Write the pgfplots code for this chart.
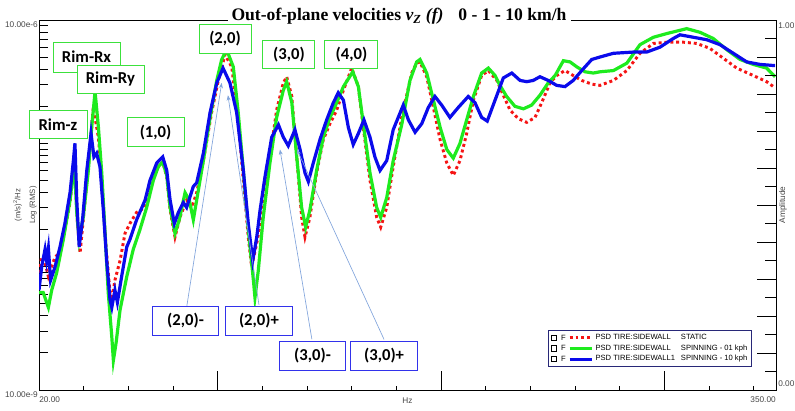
\documentclass[border=0pt]{standalone}
\usepackage{fontspec}
\setmainfont{Liberation Sans}
\newfontfamily\serifb{Liberation Serif}
\newfontfamily\carlito{Carlito}
\usepackage{pgfplots}
\pgfplotsset{compat=1.18}
\usetikzlibrary{arrows.meta}

\definecolor{cRed}{RGB}{245,20,20}
\definecolor{cGreen}{RGB}{30,235,30}
\definecolor{cBlue}{RGB}{10,10,235}
\definecolor{boxG}{RGB}{60,225,60}
\definecolor{boxB}{RGB}{50,50,235}
\definecolor{arr}{RGB}{130,165,220}
\definecolor{legB}{RGB}{40,40,120}
\definecolor{tickT}{RGB}{70,70,70}

\newcommand{\smallf}{\fontsize{6.2}{7}\selectfont}
\newcommand{\legf}{\fontsize{5.7}{6.6}\selectfont}

\begin{document}
\begin{tikzpicture}[
  gbox/.style={draw=boxG,line width=0.7pt,fill=white,font=\carlito\bfseries\fontsize{12.5}{14}\selectfont,inner sep=0pt,text=black},
  bbox/.style={gbox,draw=boxB},
  arrw/.style={draw=arr,line width=0.5pt,-{Stealth[length=4pt,width=3pt]}}
]
\begin{axis}[
  scale only axis, width=552.75pt, height=277.5pt,
  xmin=20, xmax=350, ymin=-8, ymax=-5,
  clip mode=individual,
  axis line style={black,line width=0.7pt},
  tick align=inside, xtick pos=bottom, ytick pos=left,
  xtick={20,100,200,300}, xticklabels={20.00,,,},
  minor xtick={40,60,80,120,140,160,180,220,240,260,280,320,340},
  xtick style={black,line width=0.6pt,/pgfplots/major tick length=14.25pt,/pgfplots/minor tick length=3pt},
  xticklabel style={font=\smallf,text=tickT,anchor=north west,inner sep=0pt,yshift=-5pt},
  extra x ticks={350}, extra x tick labels={350.00},
  extra x tick style={/pgfplots/major tick length=0pt, xticklabel style={anchor=north east}},
  ytick={-8,-7,-6,-5}, yticklabels={10.00e-9,,,10.00e-6},
  minor ytick={-7.699,-7.523,-7.398,-7.301,-7.222,-7.155,-7.097,-7.046,
               -6.699,-6.523,-6.398,-6.301,-6.222,-6.155,-6.097,-6.046,
               -5.699,-5.523,-5.398,-5.301,-5.222,-5.155,-5.097,-5.046},
  ytick style={black,line width=0.6pt,/pgfplots/major tick length=6.75pt,/pgfplots/minor tick length=6.75pt},
  yticklabel style={font=\smallf,text=tickT,anchor=north east,inner sep=0pt,xshift=-0.75pt,yshift=-0.75pt},
  xlabel={Hz}, xlabel style={font=\smallf,text=tickT,at={(axis description cs:0.5,-0.0297)},anchor=center},
  ylabel={(m/s)\textsuperscript{2}/Hz\\Log (RMS)},
  ylabel style={font=\fontsize{5.8}{11}\selectfont,text=tickT,align=center,at={(axis description cs:-0.019,0.5)},anchor=center},
  legend cell align=left,
  legend style={at={(axis description cs:0.9674,0.0622)},anchor=south east,draw=legB,line width=0.6pt,fill=white,font=\legf,inner xsep=2pt,inner ysep=1.5pt,row sep=0pt,nodes={inner sep=1.25pt}},
  legend image code/.code={%
    \draw[black,solid,line width=0.5pt,fill=white] (-14pt,-1.9pt) rectangle (-10.2pt,1.9pt);
    \node[black,anchor=base west,inner sep=0pt,font=\legf] at (-7.6pt,-2pt) {F};
    \draw[#1] (0pt,0pt) -- (17pt,0pt);
  },
]
\addplot[cRed,line width=2.2pt,dash pattern=on 2.2pt off 2.2pt] coordinates {
(20.0,-7.05)(21.2,-6.92)(22.7,-6.97)(24.2,-7.08)(25.7,-7.00)(27.2,-6.92)(29.4,-6.89)(31.6,-6.70)(33.9,-6.48)(35.4,-6.22)(36.1,-6.14)(37.1,-6.62)(38.4,-6.89)(39.8,-6.62)(42.1,-6.19)(44.3,-5.71)(46.6,-5.95)(48.1,-6.32)(50.0,-6.84)(51.8,-7.21)(52.6,-7.27)(54.0,-7.11)(56.3,-6.95)(58.5,-6.73)(60.7,-6.65)(63.7,-6.56)(67.5,-6.52)(70.5,-6.30)(73.4,-6.19)(75.4,-6.15)(77.2,-6.27)(78.7,-6.54)(80.9,-6.76)(83.1,-6.60)(86.1,-6.46)(88.4,-6.52)(90.6,-6.40)(93.6,-6.14)(97.3,-5.75)(100.3,-5.49)(103.3,-5.28)(106.3,-5.38)(109.2,-5.81)(111.5,-6.30)(113.7,-6.76)(115.2,-7.00)(117.5,-6.81)(120.4,-6.52)(123.4,-6.11)(126.4,-5.73)(129.4,-5.51)(130.9,-5.46)(133.2,-5.62)(135.4,-6.11)(137.6,-6.60)(139.1,-6.76)(141.3,-6.60)(144.3,-6.24)(147.3,-5.97)(150.3,-5.84)(153.3,-5.73)(156.3,-5.57)(160.0,-5.39)(163.0,-5.54)(165.2,-5.87)(168.2,-6.30)(171.2,-6.60)(173.0,-6.68)(175.7,-6.52)(178.6,-6.19)(182.4,-5.79)(186.9,-5.43)(189.1,-5.35)(190.6,-5.34)(193.6,-5.46)(196.6,-5.71)(199.6,-5.97)(202.6,-6.16)(205.5,-6.26)(208.5,-6.14)(211.5,-5.92)(214.5,-5.65)(218.2,-5.45)(221.2,-5.41)(225.0,-5.49)(227.9,-5.61)(230.9,-5.73)(234.6,-5.80)(238.4,-5.83)(242.1,-5.79)(245.1,-5.67)(248.8,-5.51)(251.8,-5.45)(255.5,-5.41)(259.2,-5.45)(263.0,-5.49)(267.5,-5.52)(271.2,-5.53)(277.2,-5.49)(283.2,-5.41)(289.1,-5.27)(295.1,-5.19)(301.1,-5.18)(308.5,-5.18)(314.5,-5.19)(320.4,-5.23)(326.4,-5.31)(332.4,-5.39)(339.8,-5.45)(345.8,-5.50)(349.6,-5.55)
};
\addlegendentry{\makebox[64pt][l]{PSD TIRE:SIDEWALL}STATIC}
\addplot[cGreen,line width=2.4pt] coordinates {
(20.0,-7.21)(21.9,-7.21)(24.2,-7.33)(25.7,-7.19)(27.9,-7.05)(30.9,-6.78)(33.9,-6.46)(35.8,-6.16)(36.9,-6.56)(38.0,-6.78)(39.8,-6.60)(42.1,-6.22)(43.6,-5.87)(45.1,-5.58)(46.6,-5.87)(48.1,-6.24)(49.6,-6.73)(51.0,-7.21)(52.6,-7.57)(53.3,-7.76)(54.5,-7.62)(56.3,-7.35)(59.3,-7.08)(62.2,-6.86)(65.2,-6.70)(68.2,-6.52)(71.2,-6.30)(73.4,-6.19)(75.4,-6.15)(77.2,-6.26)(78.7,-6.52)(80.9,-6.73)(82.8,-6.62)(85.4,-6.40)(87.3,-6.46)(89.1,-6.62)(90.6,-6.46)(93.6,-6.14)(96.6,-5.79)(99.6,-5.49)(101.8,-5.32)(104.0,-5.24)(107.0,-5.38)(109.2,-5.75)(111.5,-6.22)(113.7,-6.70)(116.0,-7.11)(116.7,-7.25)(118.2,-7.03)(120.4,-6.60)(123.4,-6.16)(126.4,-5.79)(129.4,-5.57)(130.9,-5.50)(133.2,-5.67)(135.4,-6.11)(137.6,-6.52)(139.4,-6.68)(141.3,-6.54)(144.3,-6.22)(147.3,-5.95)(150.3,-5.79)(153.3,-5.67)(156.3,-5.54)(160.5,-5.42)(163.0,-5.54)(165.2,-5.84)(168.2,-6.24)(171.2,-6.52)(173.0,-6.60)(175.7,-6.44)(178.6,-6.14)(182.4,-5.85)(186.1,-5.49)(189.1,-5.34)(190.6,-5.32)(193.6,-5.43)(196.6,-5.65)(199.6,-5.87)(202.6,-6.05)(205.5,-6.12)(208.5,-6.00)(211.5,-5.81)(214.5,-5.62)(218.2,-5.43)(221.2,-5.39)(224.2,-5.45)(226.4,-5.53)(229.4,-5.62)(233.1,-5.70)(236.9,-5.72)(240.6,-5.69)(244.3,-5.61)(248.0,-5.51)(251.1,-5.45)(254.8,-5.33)(257.8,-5.34)(260.8,-5.38)(264.5,-5.42)(268.2,-5.43)(271.2,-5.42)(277.2,-5.41)(283.2,-5.35)(289.1,-5.20)(295.1,-5.14)(301.1,-5.11)(310.0,-5.07)(316.0,-5.10)(321.9,-5.15)(327.9,-5.24)(333.9,-5.32)(339.8,-5.36)(345.8,-5.39)(349.6,-5.46)
};
\addlegendentry{\makebox[64pt][l]{PSD TIRE:SIDEWALL}SPINNING - 01 kph}
\addplot[cBlue,line width=2.4pt] coordinates {
(20.0,-7.19)(21.2,-7.00)(22.7,-6.86)(23.4,-6.95)(24.2,-6.85)(25.2,-7.11)(27.2,-7.00)(29.4,-6.84)(31.6,-6.65)(33.9,-6.40)(35.4,-6.14)(36.1,-6.00)(36.9,-6.46)(38.0,-6.84)(39.6,-6.60)(41.4,-6.22)(43.3,-5.92)(44.6,-6.11)(45.8,-6.08)(47.3,-6.19)(48.8,-6.54)(50.3,-6.95)(51.8,-7.27)(52.6,-7.33)(54.0,-7.19)(55.1,-7.29)(57.0,-7.08)(59.3,-6.84)(60.7,-6.78)(63.7,-6.62)(67.5,-6.46)(69.7,-6.30)(72.7,-6.16)(75.4,-6.11)(77.2,-6.22)(78.7,-6.46)(80.6,-6.65)(82.4,-6.56)(84.6,-6.48)(86.1,-6.52)(89.1,-6.35)(90.6,-6.32)(93.6,-6.08)(96.6,-5.75)(99.6,-5.51)(102.4,-5.39)(105.5,-5.51)(108.5,-5.75)(111.5,-6.22)(113.7,-6.65)(115.7,-6.95)(117.5,-6.76)(119.0,-6.54)(121.2,-6.27)(124.2,-5.95)(127.2,-5.85)(129.4,-5.95)(131.6,-6.02)(134.6,-5.89)(136.9,-6.05)(139.1,-6.24)(140.6,-6.31)(142.8,-6.16)(145.8,-5.97)(148.8,-5.81)(151.8,-5.67)(154.0,-5.59)(156.3,-5.65)(158.5,-5.87)(160.7,-6.01)(163.0,-5.92)(165.5,-5.81)(168.2,-5.95)(170.4,-6.11)(172.7,-6.22)(175.7,-6.14)(178.6,-5.89)(183.1,-5.69)(185.4,-5.81)(188.4,-5.91)(191.4,-5.84)(194.3,-5.71)(197.3,-5.62)(200.3,-5.69)(204.0,-5.79)(207.7,-5.71)(212.2,-5.62)(215.2,-5.67)(218.2,-5.79)(220.7,-5.82)(224.2,-5.65)(227.9,-5.47)(231.7,-5.43)(235.4,-5.49)(238.4,-5.50)(241.3,-5.49)(244.3,-5.46)(248.0,-5.49)(251.8,-5.53)(255.5,-5.54)(259.2,-5.49)(263.0,-5.41)(267.5,-5.32)(271.2,-5.30)(277.2,-5.27)(286.1,-5.26)(292.1,-5.26)(298.1,-5.22)(304.0,-5.15)(307.0,-5.12)(313.0,-5.14)(319.0,-5.16)(324.9,-5.20)(330.9,-5.27)(336.9,-5.34)(342.8,-5.36)(349.6,-5.37)
};
\addlegendentry{\makebox[64pt][l]{PSD TIRE:SIDEWALL1}SPINNING - 10 kph}

% title over the top frame
\node[fill=white,inner xsep=3pt,inner ysep=1pt,anchor=base,font=\serifb\bfseries\fontsize{13.2}{16}\selectfont]
  at (rel axis cs:0.4885,1) [yshift=-0.75pt]
  {Out-of-plane velocities {\itshape v\textsubscript{Z} (f)}\hspace{0.6em} 0 - 1 - 10 km/h};

% arrows
\draw[arrw] (axis cs:86.1,-7.33) -- (axis cs:101.8,-5.51);
\draw[arrw] (axis cs:118.5,-7.31) -- (axis cs:104.6,-5.61);
\draw[arrw] (axis cs:142.2,-7.59) -- (axis cs:127.9,-6.05);
\draw[arrw] (axis cs:174.5,-7.59) -- (axis cs:135.5,-6.05);

% top boxes
\node[gbox,minimum width=50.25pt,minimum height=22.5pt] at (axis cs:41.3,-5.30) {Rim-Rx};
\node[gbox,minimum width=50.25pt,minimum height=21pt] at (axis cs:52.0,-5.48) {Rim-Ry};
\node[gbox,minimum width=43.5pt,minimum height=21pt] at (axis cs:28.5,-5.85) {Rim-z};
\node[gbox,minimum width=42.75pt,minimum height=21.75pt] at (axis cs:72.2,-5.91) {(1,0)};
\node[gbox,minimum width=39pt,minimum height=21.75pt] at (axis cs:103.3,-5.15) {(2,0)};
\node[gbox,minimum width=39pt,minimum height=21pt] at (axis cs:131.9,-5.28) {(3,0)};
\node[gbox,minimum width=39.75pt,minimum height=21pt] at (axis cs:159.9,-5.28) {(4,0)};
% bottom boxes
\node[bbox,minimum width=50pt,minimum height=21.75pt] at (axis cs:85.6,-7.44) {(2,0)-};
\node[bbox,minimum width=50pt,minimum height=21.75pt] at (axis cs:118.5,-7.44) {(2,0)+};
\node[bbox,minimum width=50pt,minimum height=21.75pt] at (axis cs:142.5,-7.72) {(3,0)-};
\node[bbox,minimum width=50pt,minimum height=21.75pt] at (axis cs:174.5,-7.72) {(3,0)+};
\end{axis}

\begin{axis}[
  scale only axis, width=552.75pt, height=277.5pt,
  xmin=20, xmax=350, ymin=0, ymax=1,
  hide x axis,
  axis line style={draw=none},
  ytick pos=right, tick align=inside,
  ytick={0,0.1,0.2,0.3,0.4,0.5,0.6,0.7,0.8,0.9},
  yticklabels={0.00,,,,,,,,,},
  minor ytick={0.05,0.15,0.25,0.35,0.45,0.55,0.65,0.75,0.85,0.95},
  ytick style={black,line width=0.6pt,/pgfplots/major tick length=14.25pt,/pgfplots/minor tick length=8.25pt},
  yticklabel style={font=\smallf,text=tickT,anchor=south west,inner sep=0pt,xshift=1.5pt,yshift=2pt},
  extra y ticks={1}, extra y tick labels={1.00},
  extra y tick style={yticklabel style={anchor=north west,yshift=-3.5pt}},
  ylabel={Amplitude},
  ylabel style={font=\smallf,text=tickT,at={(axis description cs:1.0095,0.5)},anchor=center},
]
\end{axis}
\pgfresetboundingbox
\path (-29.25pt,-15pt) rectangle (567pt,292.5pt);
\end{tikzpicture}
\end{document}
